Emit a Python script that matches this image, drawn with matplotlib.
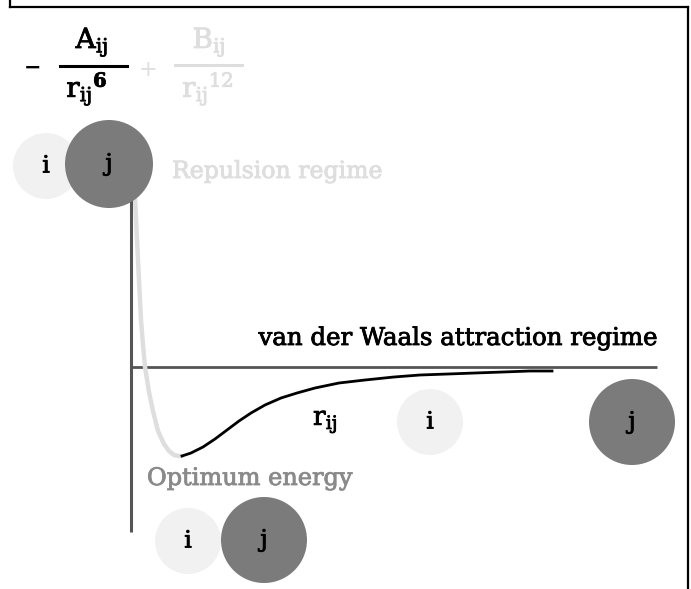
import matplotlib
matplotlib.use("Agg")
import matplotlib.pyplot as plt
import matplotlib.patheffects as pe
from matplotlib.patches import Circle
from matplotlib.lines import Line2D

# Lennard-Jones style curve
# r = separation (arbitrary units), E = energy (arbitrary units)
r_repulsive = [0.04, 0.06, 0.08, 0.10, 0.12, 0.14, 0.18, 0.22, 0.27, 0.33, 0.38, 0.43, 0.48, 0.51]
E_repulsive = [1.69, 1.27, 0.87, 0.47, 0.22, 0.00, -0.25, -0.44, -0.64, -0.77, -0.84, -0.88, -0.89, -0.89]

r_attractive = [0.51, 0.60, 0.72, 0.84, 0.96, 1.08, 1.20, 1.34, 1.50, 1.66, 1.84, 2.08,
                2.34, 2.63, 2.89, 3.17, 3.44, 3.72, 3.99, 4.21]
E_attractive = [-0.89, -0.86, -0.80, -0.72, -0.63, -0.54, -0.46, -0.38, -0.31, -0.26, -0.21, -0.16,
                -0.13, -0.10, -0.08, -0.07, -0.06, -0.05, -0.04, -0.04]

# atom pairs: label, light/dark
atom_labels = ["i", "j"]

plt.rcParams["font.family"] = ["DejaVu Serif"]
plt.rcParams["mathtext.fontset"] = "dejavuserif"

LIGHT = "#f1f1f1"
DARK = "#7b7b7b"
FAINT = "#dedede"
AXIS = "#555555"


def heavy(color):
    # thicken the thin DejaVu strokes a little
    return [pe.withStroke(linewidth=0.6, foreground=color)]


fig = plt.figure(figsize=(6.91, 5.89), dpi=100)
ax = fig.add_axes([0, 0, 1, 1])
ax.set_xlim(-1.31, 5.60)
ax.set_ylim(-2.22, 3.67)
ax.axis("off")

# frame (open at the bottom)
W, H = 691, 589
for xs, ys in [([10, 10], [0, 7]), ([10, 688], [7, 7]), ([688, 688], [7, 589])]:
    fig.add_artist(Line2D([x / W for x in xs], [1 - y / H for y in ys],
                          color="black", lw=1.6))

# axes of the diagram
ax.plot([0, 0], [1.69, -1.65], color=AXIS, lw=2.2, solid_capstyle="butt", zorder=2)
ax.plot([0, 5.26], [0, 0], color=AXIS, lw=2.0, solid_capstyle="butt", zorder=2)

# potential curve
ax.plot(r_repulsive, E_repulsive, color=FAINT, lw=3.2, zorder=3, solid_capstyle="round")
ax.plot(r_attractive, E_attractive, color="black", lw=2.0, zorder=3)


def pair(xi, yi, ri, xj, yj, rj, fs=17):
    ax.add_patch(Circle((xi, yi), ri, color=LIGHT, zorder=4, lw=0))
    ax.add_patch(Circle((xj, yj), rj, color=DARK, zorder=5, lw=0))
    ax.text(xi, yi, atom_labels[0], ha="center", va="center", fontsize=fs, zorder=6,
            path_effects=heavy("black"))
    ax.text(xj, yj, atom_labels[1], ha="center", va="center", fontsize=fs, zorder=6,
            path_effects=heavy("black"))


pair(-0.85, 2.01, 0.33, -0.22, 2.03, 0.44)
pair(2.99, -0.55, 0.33, 5.01, -0.55, 0.43)
pair(0.57, -1.74, 0.33, 1.33, -1.73, 0.43)

# formula
ax.text(-0.985, 2.99, "\u2212", ha="center", va="center", fontsize=15, fontweight="bold")
ax.text(-0.39, 3.19, r"$\mathrm{A_{ij}}$", ha="center", va="baseline", fontsize=20,
        path_effects=heavy("black"))
ax.plot([-0.71, -0.04], [3.01, 3.01], color="black", lw=2.2)
ax.text(-0.44, 2.70, r"$\mathrm{r_{ij}}^{\mathbf{6}}$", ha="center", va="baseline", fontsize=20,
        path_effects=heavy("black"))
ax.text(0.17, 2.97, "+", ha="center", va="center", fontsize=16, color=FAINT)
ax.text(0.78, 3.19, r"$\mathrm{B_{ij}}$", ha="center", va="baseline", fontsize=20, color=FAINT,
        path_effects=heavy(FAINT))
ax.plot([0.44, 1.11], [3.02, 3.02], color=FAINT, lw=2.2)
ax.text(0.77, 2.70, r"$\mathrm{r_{ij}}^{12}$", ha="center", va="baseline", fontsize=20, color=FAINT,
        path_effects=heavy(FAINT))

# labels
ax.text(0.41, 1.89, "Repulsion regime", ha="left", va="baseline", fontsize=17, color=FAINT,
        path_effects=heavy(FAINT))
ax.text(5.26, 0.22, "van der Waals attraction regime", ha="right", va="baseline", fontsize=17.6,
        path_effects=heavy("black"))
ax.text(1.82, -0.58, r"$\mathrm{r_{ij}}$", ha="left", va="baseline", fontsize=19,
        path_effects=heavy("black"))
ax.text(0.16, -1.18, "Optimum energy", ha="left", va="baseline", fontsize=17.3, color="#8a8a8a",
        path_effects=heavy("#8a8a8a"))

fig.savefig("out.png", dpi=100, facecolor="white")
